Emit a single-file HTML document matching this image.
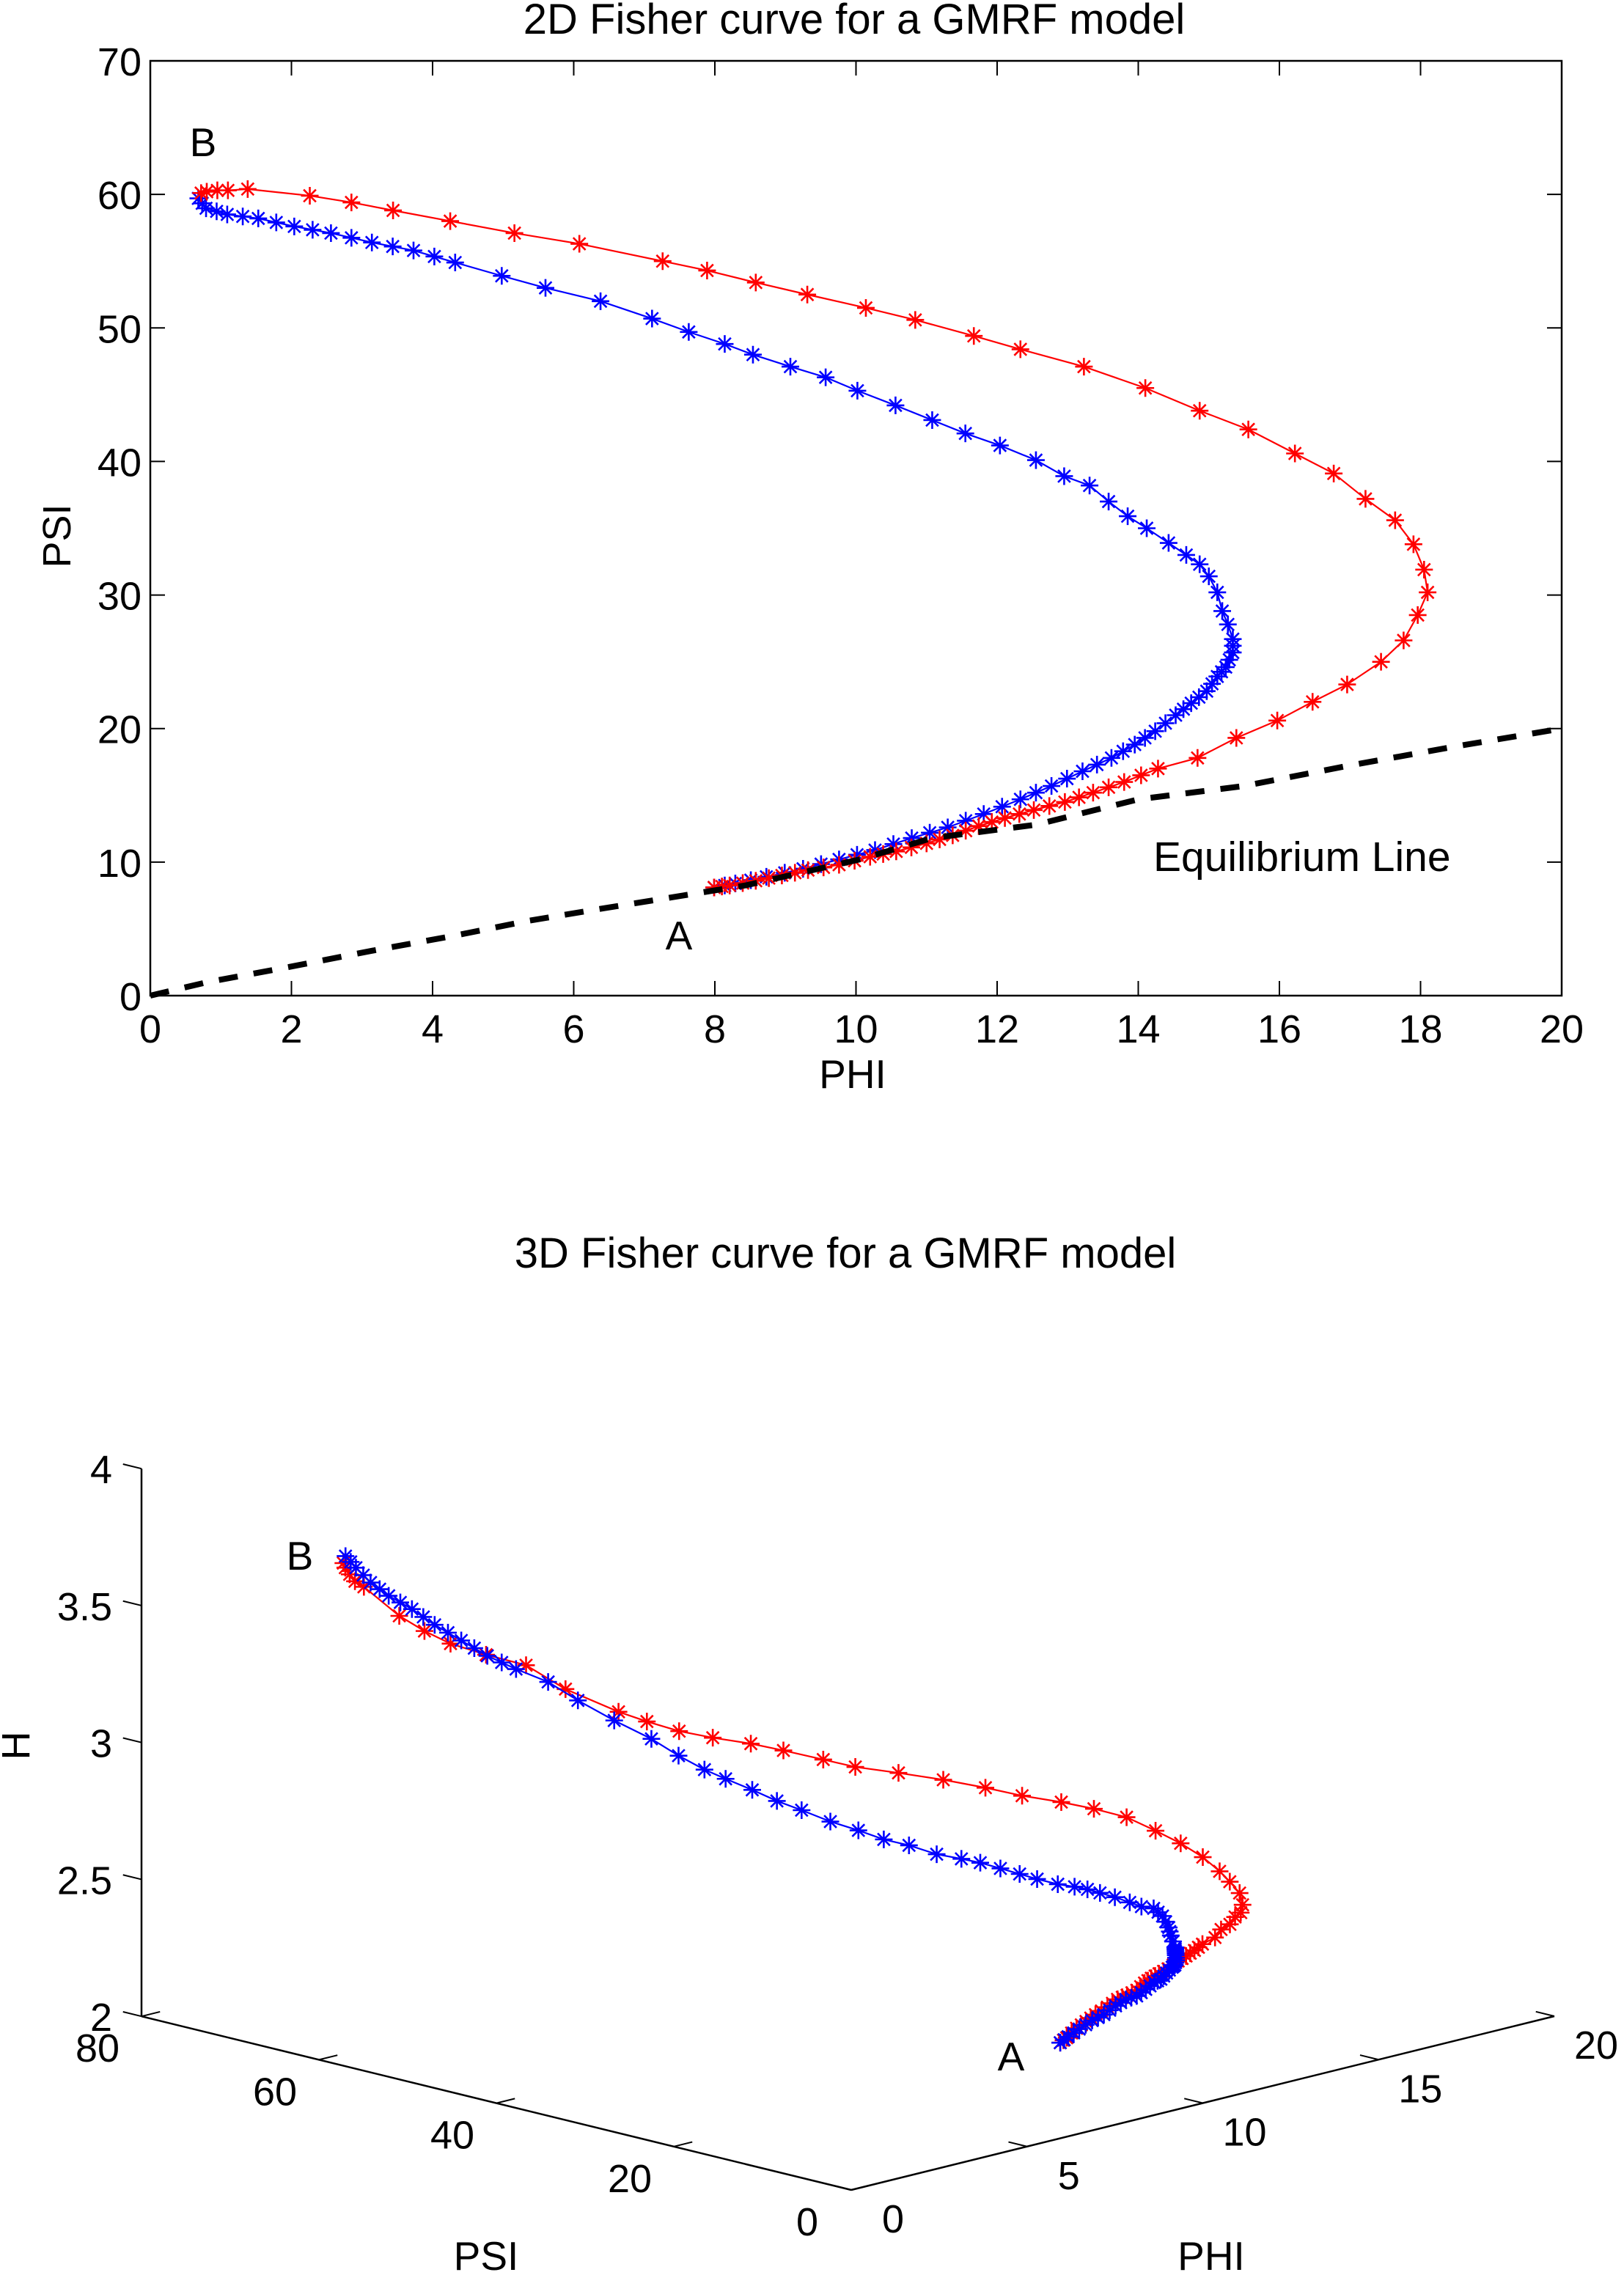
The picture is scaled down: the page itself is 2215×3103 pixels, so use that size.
<!DOCTYPE html>
<html><head><meta charset="utf-8"><style>
html,body{margin:0;padding:0;background:#fff;}
svg{display:block;font-family:"Liberation Sans",Arial,sans-serif;}
</style></head><body>
<svg id="fig" width="2215" height="3103" viewBox="0 0 2215 3103" xmlns="http://www.w3.org/2000/svg">
<rect width="2215" height="3103" fill="#fff"/>
<g id="topchart"></g>
<g id="botchart"></g>
</svg>
<script>
// ---- data ----
const redPhi = [0.72,0.8,0.95,1.1,1.38,2.26,2.85,3.44,4.25,5.16,6.08,7.26,7.89,8.58,9.31,10.14,10.84,11.67,12.33,13.23,14.1,14.87,15.56,16.22,16.77,17.22,17.64,17.9,18.05,18.1,17.96,17.76,17.44,16.96,16.47,15.97,15.39,14.84,14.28,13.8,13.36,12.96,12.52,12.11,11.74,11.37,11.0,10.57,10.2,9.76,9.32,8.95,8.58,8.21,7.99];
const redPsi = [60.1,60.2,60.3,60.3,60.4,59.9,59.4,58.8,58.0,57.1,56.3,55.0,54.3,53.4,52.5,51.5,50.6,49.4,48.4,47.1,45.5,43.8,42.4,40.6,39.1,37.2,35.6,33.8,31.9,30.2,28.5,26.6,25.0,23.3,22.0,20.6,19.3,17.8,17.0,16.0,15.2,14.5,13.9,13.3,12.7,12.0,11.4,10.8,10.4,9.8,9.4,9.0,8.6,8.25,8.1];
const redH = [3.79,3.77,3.74,3.71,3.68,3.55,3.48,3.42,3.36,3.30,3.19,3.08,3.03,2.98,2.94,2.90,2.86,2.81,2.77,2.73,2.69,2.65,2.61,2.58,2.55,2.52,2.47,2.43,2.39,2.35,2.33,2.31,2.29,2.29,2.30,2.30,2.31,2.31,2.31,2.31,2.31,2.31,2.30,2.30,2.30,2.30,2.29,2.29,2.29,2.28,2.27,2.26,2.25,2.23,2.22];
const bluePhi = [0.68,0.79,1.09,1.53,2.04,2.56,3.14,3.73,4.32,4.98,5.6,6.38,7.11,7.63,8.14,8.54,9.07,9.57,10.02,10.56,11.08,11.55,12.04,12.55,12.95,13.31,13.58,13.85,14.12,14.43,14.68,14.87,15.0,15.12,15.19,15.27,15.34,15.34,15.24,15.12,14.97,14.75,14.53,14.24,13.95,13.62,13.21,12.77,12.33,11.81,11.3,10.79,10.27,9.76,9.25,8.73,8.29,7.99];
const bluePsi = [59.7,58.96,58.5,58.2,57.6,57.1,56.4,55.8,54.9,53.9,53.0,52.0,50.7,49.7,48.8,48.0,47.1,46.3,45.3,44.2,43.1,42.1,41.2,40.1,38.9,38.2,37.0,35.9,35.0,33.9,33.0,32.3,31.4,30.2,28.8,27.8,26.7,25.7,24.6,23.9,22.8,21.9,21.0,19.8,18.8,17.8,16.8,15.7,14.7,13.6,12.6,11.8,10.9,10.2,9.5,8.9,8.4,8.1];
const blueH = [3.82,3.78,3.72,3.66,3.60,3.53,3.46,3.39,3.33,3.27,3.19,3.10,3.02,2.95,2.89,2.85,2.80,2.75,2.71,2.66,2.62,2.58,2.55,2.51,2.49,2.47,2.45,2.43,2.41,2.39,2.38,2.37,2.36,2.35,2.34,2.33,2.33,2.31,2.28,2.26,2.23,2.23,2.23,2.23,2.23,2.24,2.24,2.24,2.25,2.25,2.25,2.26,2.26,2.25,2.25,2.24,2.23,2.22];
const eqPhi = [0,0.8,1.97,3.14,4.32,5.35,6.38,7.55,8.43,10.05,11.08,12.55,14.0,15.5,16.96,18.43,20];
const eqPsi = [0,1.0,2.15,3.36,4.5,5.6,6.5,7.5,8.25,10.2,11.8,12.8,14.7,15.7,17.2,18.6,20.0];
const xTicks2D = [0,2,4,6,8,10,12,14,16,18,20];
const yTicks2D = [0,10,20,30,40,50,60,70];
const hTicks = [2,2.5,3,3.5,4];
const psiTicks = [0,20,40,60,80];
const phiTicks = [0,5,10,15,20];

const NS="http://www.w3.org/2000/svg";
function mk(parent,tag,attrs,text){const e=document.createElementNS(NS,tag);for(const k in attrs)e.setAttribute(k,attrs[k]);if(text!==undefined)e.textContent=text;parent.appendChild(e);return e;}
function star(g,x,y,c,s){
  const d=`M${x-s} ${y}H${x+s}M${x} ${y-s}V${y+s}M${x-s*0.7} ${y-s*0.7}L${x+s*0.7} ${y+s*0.7}M${x-s*0.7} ${y+s*0.7}L${x+s*0.7} ${y-s*0.7}`;
  const p=mk(g,'path',{d:d,stroke:c,'stroke-width':2.6,fill:'none'});
  
  
}
// markers at vertices plus one extra per segment in dense ranges
function markers(g,pts,c,dense){
  pts.forEach((q,i)=>{
    star(g,q[0],q[1],c,12);
    if(i<pts.length-1 && dense(i)){
      const n=pts[i+1];
      star(g,(q[0]+n[0])/2,(q[1]+n[1])/2,c,12);
    }
  });
}
const blueDense=i=>i<8||i>=36, redDense=i=>i>=38;
// ---- 2D chart ----
const gTop=document.getElementById('topchart');
const AL=205,AR=2130,AT=83,AB=1358;
const xs=v=>AL+(v-0)/20*(AR-AL), ys=v=>AB-(v-0)/70*(AB-AT);
const fr=mk(gTop,'rect',{x:AL,y:AT,width:AR-AL,height:AB-AT,fill:'none',stroke:'#000','stroke-width':2.5});


xTicks2D.forEach(v=>{const x=xs(v);
  mk(gTop,'line',{x1:x,y1:AB,x2:x,y2:AB-20,stroke:'#000','stroke-width':2});
  mk(gTop,'line',{x1:x,y1:AT,x2:x,y2:AT+20,stroke:'#000','stroke-width':2});
  const t=mk(gTop,'text',{x:x,y:1422,'font-size':54,'text-anchor':'middle'},String(v));
  
  });
yTicks2D.forEach(v=>{const y=ys(v);
  mk(gTop,'line',{x1:AL,y1:y,x2:AL+20,y2:y,stroke:'#000','stroke-width':2});
  mk(gTop,'line',{x1:AR,y1:y,x2:AR-20,y2:y,stroke:'#000','stroke-width':2});
  const t=mk(gTop,'text',{x:193,y:y+20,'font-size':54,'text-anchor':'end'},String(v));
  
  });
function series2D(phi,psi,c,name,dense){
  const g=mk(gTop,'g',{});
  
  
  const pts=phi.map((p,i)=>[xs(p),ys(psi[i])]);
  mk(g,'polyline',{points:pts.map(q=>q[0]+','+q[1]).join(' '),fill:'none',stroke:c,'stroke-width':2.2});
  markers(g,pts,c,dense);
}
series2D(bluePhi,bluePsi,'#0000ff','blue-curve-2d',blueDense);
series2D(redPhi,redPsi,'#ff0000','red-curve-2d',redDense);
const eq=mk(gTop,'polyline',{points:eqPhi.map((p,i)=>xs(p)+','+ys(eqPsi[i])).join(' '),fill:'none',stroke:'#000','stroke-width':8,'stroke-dasharray':'26 22'});


[['2D Fisher curve for a GMRF model',1165,46,58,'middle','chart-title-2d'],['PHI',1163,1484,55,'middle','x-axis-title'],['B',277,213,55,'middle','label-b'],['A',926,1295,55,'middle','label-a'],['Equilibrium Line',1573,1188,57,'start','equilibrium-label']].forEach(a=>{
  const t=mk(gTop,'text',{x:a[1],y:a[2],'font-size':a[3],'text-anchor':a[4]},a[0]);
  
  });
const yl=mk(gTop,'text',{x:0,y:0,'font-size':54,'text-anchor':'middle',transform:'translate(96,731) rotate(-90)'},'PSI');



// ---- 3D chart ----
const gBot=document.getElementById('botchart');
const O=[1161,2987], uPhi=[47.95,-11.85], uPsi=[-12.1,-2.96], hU=373.5;
const P=(phi,psi,h)=>[O[0]+phi*uPhi[0]+psi*uPsi[0], O[1]+phi*uPhi[1]+psi*uPsi[1]-(h-2)*hU];
function ln(a,b,w){mk(gBot,'line',{x1:a[0],y1:a[1],x2:b[0],y2:b[1],stroke:'#000','stroke-width':w||2.5});}
ln(P(0,0,2),P(20,0,2));ln(P(0,0,2),P(0,80,2));ln(P(0,80,2),P(0,80,4));
const nPhi=[uPhi[0]/Math.hypot(...uPhi),uPhi[1]/Math.hypot(...uPhi)], nPsi=[uPsi[0]/Math.hypot(...uPsi),uPsi[1]/Math.hypot(...uPsi)];
hTicks.forEach(v=>{const p=P(0,80,v);ln(p,[p[0]+nPsi[0]*26,p[1]+nPsi[1]*26],2);
  const t=mk(gBot,'text',{x:153,y:p[1]+20,'font-size':54,'text-anchor':'end'},String(v));
  
  });
psiTicks.forEach(v=>{const p=P(0,v,2);ln(p,[p[0]+nPhi[0]*26,p[1]+nPhi[1]*26],2);
  const t=mk(gBot,'text',{x:p[0]-60,y:p[1]+62,'font-size':54,'text-anchor':'middle'},String(v));
  
  });
phiTicks.forEach(v=>{const p=P(v,0,2);ln(p,[p[0]+nPsi[0]*26,p[1]+nPsi[1]*26],2);
  const t=mk(gBot,'text',{x:p[0]+57,y:p[1]+58,'font-size':54,'text-anchor':'middle'},String(v));
  
  });
function series3D(phi,psi,h,c,name,dense){
  const g=mk(gBot,'g',{});
  
  
  const pts=phi.map((p,i)=>P(p,psi[i],h[i]));
  mk(g,'polyline',{points:pts.map(q=>q[0]+','+q[1]).join(' '),fill:'none',stroke:c,'stroke-width':2.2});
  markers(g,pts,c,dense);
}
series3D(redPhi,redPsi,redH,'#ff0000','red-curve-3d',redDense);
series3D(bluePhi,bluePsi,blueH,'#0000ff','blue-curve-3d',blueDense);
[['3D Fisher curve for a GMRF model',1153,1729,'chart-title-3d'],['B',409,2141,'label-b-3d'],['A',1379,2824,'label-a-3d'],['PSI',663,3096,'psi-axis-title'],['PHI',1652,3096,'phi-axis-title']].forEach(a=>{
  const t=mk(gBot,'text',{x:a[1],y:a[2],'font-size':a[3]==='chart-title-3d'?58:55,'text-anchor':'middle'},a[0]);
  
  });
const hl=mk(gBot,'text',{x:0,y:0,'font-size':54,'text-anchor':'middle',transform:'translate(40,2381) rotate(-90)'},'H');


</script>
</body></html>
